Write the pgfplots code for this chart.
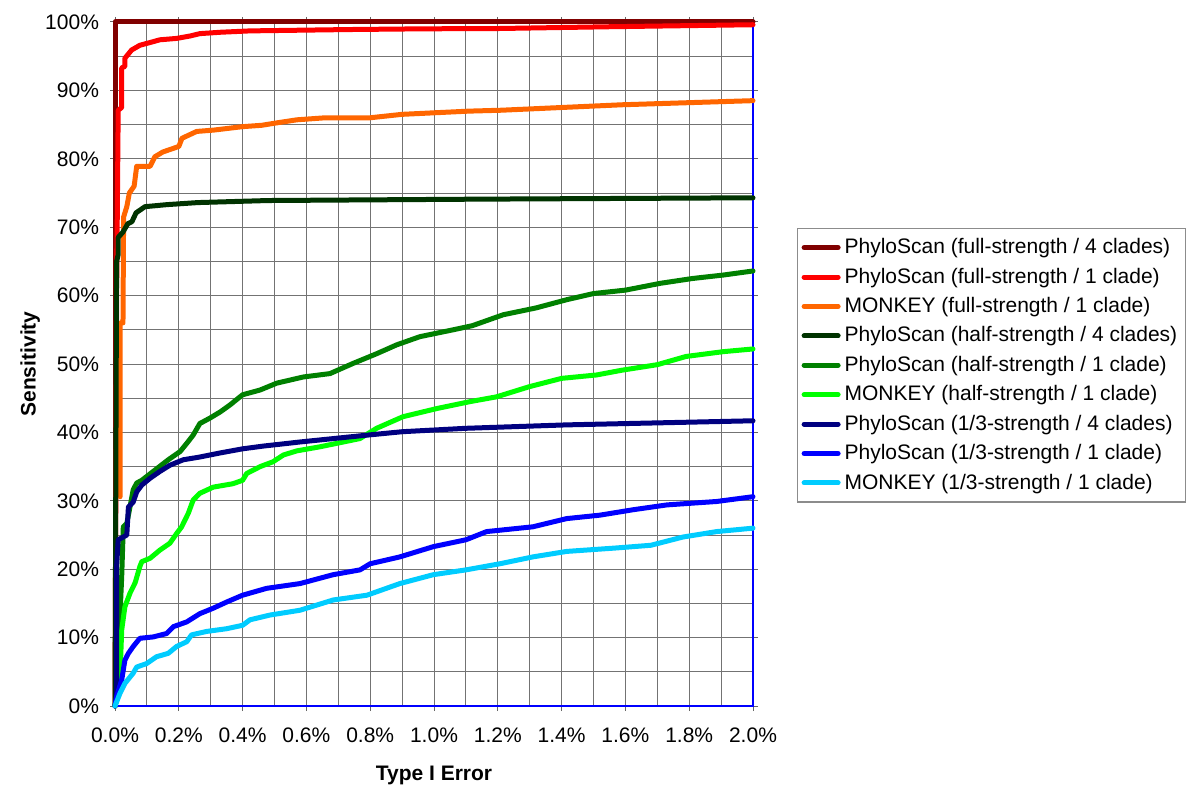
\documentclass[border=0pt]{standalone}
\usepackage{pgfplots}
\pgfplotsset{compat=1.18}
\usepackage{fontspec}
\setmainfont{Liberation Sans}
\definecolor{cDarkRed}{RGB}{128,0,0}
\definecolor{cRed}{RGB}{255,0,0}
\definecolor{cOrange}{RGB}{255,102,0}
\definecolor{cDarkGreen}{RGB}{0,51,0}
\definecolor{cGreen}{RGB}{0,128,0}
\definecolor{cLime}{RGB}{0,255,0}
\definecolor{cNavy}{RGB}{0,0,128}
\definecolor{cBlue}{RGB}{0,0,255}
\definecolor{cCyan}{RGB}{0,204,255}
\begin{document}
\begin{tikzpicture}
\path[use as bounding box] (0,0) rectangle (600pt,400pt);
\begin{axis}[
  at={(57.5pt,47pt)}, anchor=south west,
  scale only axis, width=319pt, height=342pt,
  xmin=0, xmax=2, ymin=0, ymax=100,
  clip=false,
  font=\fontsize{10.5}{12}\selectfont,
  /pgf/number format/assume math mode=true,
  xtick={0,0.2,0.4,0.6,0.8,1.0,1.2,1.4,1.6,1.8,2.0},
  xticklabels={0.0\%,0.2\%,0.4\%,0.6\%,0.8\%,1.0\%,1.2\%,1.4\%,1.6\%,1.8\%,2.0\%},
  ytick={0,10,20,30,40,50,60,70,80,90,100},
  yticklabels={0\%,10\%,20\%,30\%,40\%,50\%,60\%,70\%,80\%,90\%,100\%},
  minor xtick={0.1,0.3,0.5,0.7,0.9,1.1,1.3,1.5,1.7,1.9},
  minor ytick={5,15,25,35,45,55,65,75,85,95},
  grid=both,
  grid style={draw=black!55, line width=0.5pt},
  minor grid style={draw=black!55, line width=0.5pt},
  tick align=outside, major tick length=2.5pt, minor tick length=0pt,
  tick style={draw=black!60, line width=0.5pt},
  axis line style={draw=blue, line width=0.8pt},
  xticklabel style={yshift=-5pt},
  yticklabel style={xshift=-2pt},
  xlabel={\textbf{Type I Error}},
  ylabel={\textbf{Sensitivity}},
  xlabel style={at={(axis description cs:0.5,-0.101)}, anchor=center},
  ylabel style={at={(axis description cs:-0.133,0.5)}, anchor=center, rotate=0},
  legend style={at={(1.069,0.699)}, anchor=north west, draw=black!45, line width=0.6pt,
    font=\fontsize{10.5}{12}\selectfont, inner xsep=2pt, inner ysep=3pt, row sep=1.6pt},
  legend cell align=left,
  legend image code/.code={\draw[#1, line width=2.5pt] (0pt,0pt) -- (17pt,0pt);},
  every axis plot/.append style={line width=2.5pt, line join=round, line cap=round, mark=none},
]
\addplot[cDarkRed] coordinates {(0,0) (0,100) (2,100)};
\addlegendentry{PhyloScan (full-strength / 4 clades)}
\addplot[cRed] coordinates {(0,0) (0.005,60) (0.01,87.1) (0.021,87.5) (0.021,93.3) (0.031,93.5) (0.031,94.7) (0.052,95.9) (0.078,96.6) (0.11,97.0) (0.141,97.4) (0.193,97.6) (0.235,97.95) (0.266,98.3) (0.33,98.5) (0.423,98.7) (0.58,98.8) (0.737,98.9) (0.96,99.0) (1.207,99.05) (1.54,99.3) (2.0,99.6)};
\addlegendentry{PhyloScan (full-strength / 1 clade)}
\addplot[cOrange] coordinates {(0.016,30.6) (0.016,56) (0.025,56) (0.027,71.5) (0.037,73) (0.045,75) (0.06,76) (0.068,78.9) (0.11,78.9) (0.125,80.3) (0.15,81.0) (0.2,81.8) (0.21,83.0) (0.256,84.0) (0.31,84.2) (0.40,84.7) (0.46,84.9) (0.50,85.2) (0.57,85.7) (0.66,86.0) (0.80,86.0) (0.90,86.5) (1.11,86.97) (1.21,87.1) (1.59,87.9) (2.0,88.5)};
\addlegendentry{MONKEY (full-strength / 1 clade)}
\addplot[cDarkGreen] coordinates {(0,0) (0.005,65) (0.01,66) (0.01,68.5) (0.025,69.3) (0.04,70.5) (0.053,70.8) (0.066,72.1) (0.094,73.0) (0.163,73.3) (0.26,73.6) (0.48,73.9) (1.14,74.1) (2.0,74.3)};
\addlegendentry{PhyloScan (half-strength / 4 clades)}
\addplot[cGreen] coordinates {(0,0) (0.01,2.8) (0.016,13.6) (0.021,18.9) (0.026,26.2) (0.037,26.7) (0.047,29.1) (0.057,31.6) (0.068,32.6) (0.084,33.0) (0.12,34.3) (0.167,36.0) (0.204,37.2) (0.225,38.4) (0.245,39.6) (0.266,41.3) (0.298,42.1) (0.33,43.0) (0.36,44.0) (0.40,45.5) (0.455,46.2) (0.507,47.2) (0.59,48.1) (0.674,48.6) (0.747,50.1) (0.82,51.5) (0.883,52.8) (0.956,54.0) (1.06,55.0) (1.12,55.6) (1.217,57.2) (1.32,58.2) (1.416,59.4) (1.50,60.3) (1.60,60.8) (1.71,61.8) (1.81,62.5) (1.906,63.0) (2.0,63.6)};
\addlegendentry{PhyloScan (half-strength / 1 clade)}
\addplot[cLime] coordinates {(0,0) (0.005,0.9) (0.016,4.8) (0.021,11.1) (0.031,14.5) (0.047,16.5) (0.063,18.0) (0.078,20.4) (0.084,21.1) (0.11,21.6) (0.141,22.8) (0.172,23.8) (0.193,25.2) (0.209,26.2) (0.23,28.2) (0.245,30.1) (0.266,31.1) (0.308,32.0) (0.37,32.5) (0.40,33.0) (0.413,34.0) (0.455,35.0) (0.495,35.7) (0.528,36.7) (0.57,37.3) (0.643,37.9) (0.768,39.1) (0.82,40.6) (0.903,42.3) (1.01,43.5) (1.113,44.5) (1.196,45.2) (1.30,46.7) (1.40,47.9) (1.51,48.4) (1.59,49.1) (1.70,49.9) (1.79,51.1) (1.906,51.8) (2.0,52.2)};
\addlegendentry{MONKEY (half-strength / 1 clade)}
\addplot[cNavy] coordinates {(0,0) (0.005,1.4) (0.005,20.4) (0.01,24.3) (0.037,25.0) (0.042,29.1) (0.057,29.8) (0.068,31.3) (0.084,32.3) (0.11,33.3) (0.141,34.3) (0.172,35.2) (0.214,36.0) (0.266,36.4) (0.33,37.0) (0.40,37.6) (0.465,38.0) (0.58,38.6) (0.79,39.6) (0.90,40.1) (1.10,40.6) (1.416,41.1) (2.0,41.7)};
\addlegendentry{PhyloScan (1/3-strength / 4 clades)}
\addplot[cBlue] coordinates {(0,0) (0.005,1.4) (0.021,3.8) (0.031,6.7) (0.042,7.7) (0.057,8.7) (0.078,9.9) (0.12,10.1) (0.162,10.6) (0.183,11.6) (0.225,12.3) (0.266,13.5) (0.308,14.3) (0.35,15.2) (0.40,16.2) (0.475,17.2) (0.58,17.9) (0.684,19.2) (0.768,19.9) (0.80,20.8) (0.893,21.8) (0.998,23.3) (1.10,24.3) (1.165,25.5) (1.31,26.2) (1.416,27.4) (1.52,27.9) (1.625,28.7) (1.73,29.4) (1.886,29.9) (2.0,30.6)};
\addlegendentry{PhyloScan (1/3-strength / 1 clade)}
\addplot[cCyan] coordinates {(0,0) (0.016,1.9) (0.031,3.3) (0.057,4.8) (0.068,5.7) (0.099,6.2) (0.13,7.2) (0.167,7.7) (0.193,8.7) (0.225,9.4) (0.24,10.4) (0.287,10.9) (0.35,11.3) (0.40,11.8) (0.423,12.6) (0.486,13.3) (0.58,14.0) (0.684,15.5) (0.79,16.2) (0.893,17.9) (0.998,19.2) (1.10,19.9) (1.207,20.8) (1.31,21.8) (1.416,22.6) (1.57,23.1) (1.68,23.5) (1.78,24.7) (1.886,25.5) (2.0,26.0)};
\addlegendentry{MONKEY (1/3-strength / 1 clade)}
\end{axis}
\end{tikzpicture}
\end{document}
